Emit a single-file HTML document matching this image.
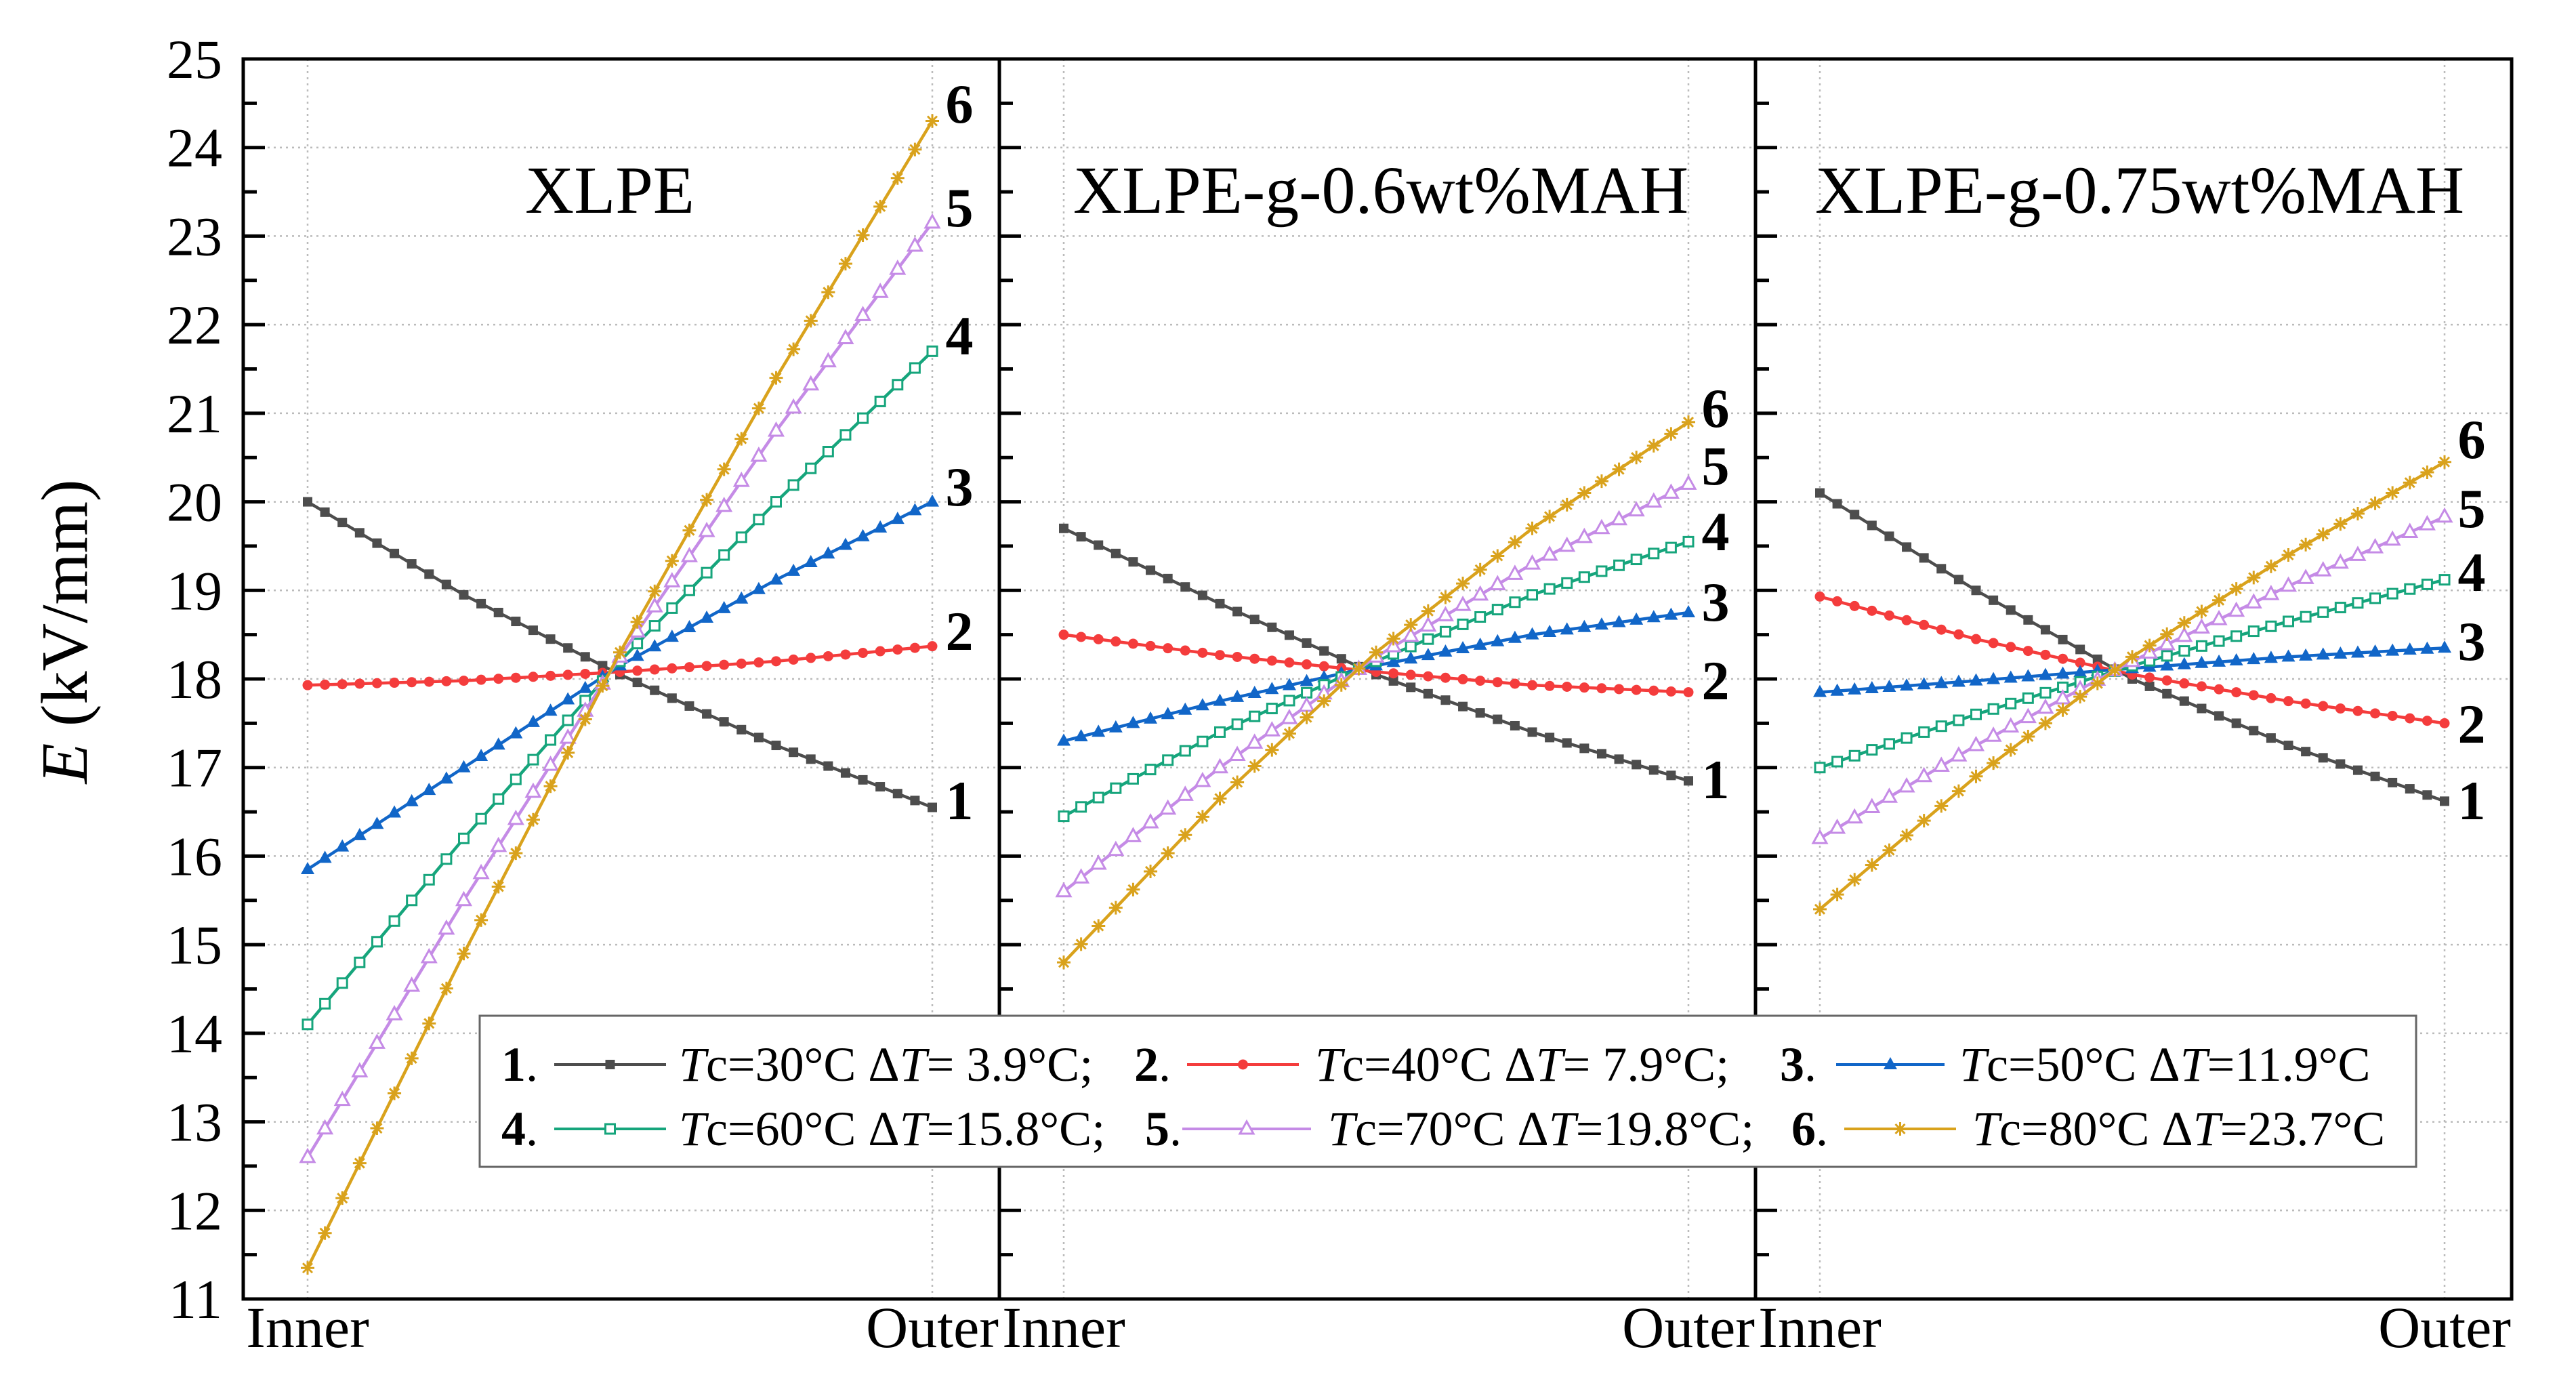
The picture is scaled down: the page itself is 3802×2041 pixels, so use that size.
<!DOCTYPE html>
<html><head><meta charset="utf-8"><style>
html,body{margin:0;padding:0;background:#fff}
svg{display:block;font-family:"Liberation Serif",serif}
</style></head><body>
<svg id="chart" width="3802" height="2041" viewBox="0 0 3802 2041" xmlns="http://www.w3.org/2000/svg">
<g id="grid"></g>
<g id="series"></g>
<g id="axes"></g>
<text transform="translate(128,932) rotate(-90)" text-anchor="middle" font-size="98"><tspan font-style="italic">E</tspan> (kV/mm)</text>
<g id="legend"></g>
</svg>
<script>
const yTicks=[11,12,13,14,15,16,17,18,19,20,21,22,23,24,25];
const panelTitles=["XLPE","XLPE-g-0.6wt%MAH","XLPE-g-0.75wt%MAH"];
const positions=[0,0.25,0.5,0.75,1];
const xlpe=[[20.0,18.95,18.05,17.25,16.55],[17.93,17.98,18.08,18.2,18.37],[15.85,17.0,18.15,19.12,20.0],[14.1,16.2,18.2,20.0,21.7],[12.6,15.5,18.25,20.8,23.15],[11.35,14.9,18.3,21.4,24.3]];
const mah06=[[19.7,18.85,18.05,17.4,16.85],[18.5,18.27,18.08,17.93,17.85],[17.3,17.75,18.15,18.5,18.75],[16.45,17.4,18.2,18.95,19.55],[15.6,17.0,18.25,19.3,20.2],[14.8,16.65,18.3,19.7,20.9]];
const mah075=[[20.1,19.0,18.0,17.25,16.62],[18.93,18.45,18.05,17.75,17.5],[17.85,17.98,18.12,18.25,18.35],[17.0,17.6,18.15,18.65,19.12],[16.2,17.25,18.2,19.05,19.83],[15.4,16.9,18.25,19.4,20.45]];
const panelData=[xlpe,mah06,mah075];
const legendText=["Tc=30°C ΔT= 3.9°C;","Tc=40°C ΔT= 7.9°C;","Tc=50°C ΔT=11.9°C","Tc=60°C ΔT=15.8°C;","Tc=70°C ΔT=19.8°C;","Tc=80°C ΔT=23.7°C"];
const colors=["#4d4d4d","#f43c3c","#1166c8","#16a57c","#c58be6","#d9a21c"];
const markers=["sq","dot","tri","osq","otri","star"];
const labelY=[[1181,931,718,495,306,153],[1150,1004,888,784,687,602],[1181,1068,946,844,750,648]];

const NS="http://www.w3.org/2000/svg";
const plotTop=87,plotBottom=1917,panelW=1116,left0=359;
function yScale(v){return plotBottom-(v-11)/(25-11)*(plotBottom-plotTop);}
function px(p,f){return left0+p*panelW+95+f*922;}
function mk(tag,attrs,parent){const e=document.createElementNS(NS,tag);for(const k in attrs)e.setAttribute(k,attrs[k]);parent.appendChild(e);return e;}
const grid=document.getElementById('grid'),ser=document.getElementById('series'),axes=document.getElementById('axes'),leg=document.getElementById('legend');

function drawMarker(type,x,yy,c,parent){
  let e;
  if(type==="sq"){e=mk('rect',{x:x-7,y:yy-7,width:14,height:14,fill:c},parent);}
  else if(type==="dot"){e=mk('circle',{cx:x,cy:yy,r:7.5,fill:c},parent);}
  else if(type==="tri"){e=mk('polygon',{points:`${x},${yy-11} ${x-10},${yy+7} ${x+10},${yy+7}`,fill:c},parent);}
  else if(type==="osq"){e=mk('rect',{x:x-7,y:yy-7,width:14,height:14,fill:'#fff',stroke:c,'stroke-width':3},parent);}
  else if(type==="otri"){e=mk('polygon',{points:`${x},${yy-11} ${x-10},${yy+7} ${x+10},${yy+7}`,fill:'#fff',stroke:c,'stroke-width':3},parent);}
  else {e=mk('path',{d:`M${x-10},${yy}L${x+10},${yy}M${x},${yy-10}L${x},${yy+10}M${x-7},${yy-7}L${x+7},${yy+7}M${x-7},${yy+7}L${x+7},${yy-7}`,stroke:c,'stroke-width':3},parent);}
  
  
}

for(let p=0;p<3;p++){
  const L=left0+p*panelW,R=L+panelW;
  yTicks.forEach(t=>{
    const g=mk('line',{x1:L,x2:R,y1:yScale(t),y2:yScale(t),stroke:'#bbb','stroke-width':2.5,'stroke-dasharray':'3 6'},grid);
    
    
  });
  [0,1].forEach(f=>{
    const g=mk('line',{x1:px(p,f),x2:px(p,f),y1:plotTop,y2:plotBottom,stroke:'#bbb','stroke-width':2.5,'stroke-dasharray':'3 6'},grid);
    
    
  });
  for(let v=11;v<=25;v+=0.5){
    const major=Number.isInteger(v);
    const t=mk('line',{x1:L,x2:L+(major?32:20),y1:yScale(v),y2:yScale(v),stroke:'#000','stroke-width':5},axes);
    
    
  }
  const tt=mk('text',{x:[900,2038,3158][p],y:314,'font-size':100,'text-anchor':'middle'},axes);
  tt.textContent=panelTitles[p];
  
  
  const xi=mk('text',{x:px(p,0),y:1988,'font-size':86,'text-anchor':'middle'},axes);
  xi.textContent="Inner";
  
  
  const xo=mk('text',{x:px(p,1),y:1988,'font-size':86,'text-anchor':'middle'},axes);
  xo.textContent="Outer";
  
  

  panelData[p].forEach((vals,s)=>{
    const pts=vals.map((v,i)=>[px(p,positions[i]),yScale(v)]);
    const pl=mk('polyline',{points:pts.map(q=>q.join(',')).join(' '),fill:'none',stroke:colors[s],'stroke-width':4.5},ser);
    
    
    const N=36;
    for(let k=0;k<=N;k++){
      const f=k/N;
      let i=0;while(i<positions.length-2&&f>positions[i+1])i++;
      const u=(f-positions[i])/(positions[i+1]-positions[i]);
      const v=vals[i]+(vals[i+1]-vals[i])*u;
      drawMarker(markers[s],px(p,f),yScale(v),colors[s],ser);
    }
    const lb=mk('text',{x:px(p,1)+40,y:labelY[p][s]+28,'font-size':82,'font-weight':'bold','text-anchor':'middle'},ser);
    lb.textContent=String(s+1);
    
    
  });
}
yTicks.forEach(t=>{
  const e=mk('text',{x:328,y:yScale(t)+28,'font-size':82,'text-anchor':'end'},axes);
  e.textContent=String(t);
  
  
});
const fr=mk('rect',{x:left0,y:plotTop,width:3*panelW,height:plotBottom-plotTop,fill:'none',stroke:'#000','stroke-width':5},axes);


[1,2].forEach(p=>{
  const d=mk('line',{x1:left0+p*panelW,x2:left0+p*panelW,y1:plotTop,y2:plotBottom,stroke:'#000','stroke-width':5},axes);
  
  
});

const lbx=mk('rect',{x:708,y:1499,width:2858,height:223,fill:'#fff',stroke:'#666','stroke-width':3},leg);


const numX=[740,1674,2627,740,1690,2644];
const lineX=[[818,983],[1752,1917],[2710,2870],[818,983],[1745,1935],[2722,2887]];
const textX=[1002,1941,2892,1002,1960,2911];
for(let s=0;s<6;s++){
  const yy=s<3?1595:1690;
  const g=mk('g',{},leg);
  
  
  const n=mk('text',{x:numX[s],y:yy,'font-size':72},g);
  n.innerHTML='<tspan font-weight="bold">'+(s+1)+'</tspan>.';
  mk('line',{x1:lineX[s][0],x2:lineX[s][1],y1:yy-24,y2:yy-24,stroke:colors[s],'stroke-width':4},g);
  drawMarker(markers[s],(lineX[s][0]+lineX[s][1])/2,yy-24,colors[s],g);
  const t=mk('text',{x:textX[s],y:yy,'font-size':72},g);
  const parts=legendText[s].match(/^Tc(=\d+°C )ΔT(.*)$/);
  t.innerHTML='<tspan font-style="italic">T</tspan>c'+parts[1]+'Δ<tspan font-style="italic">T</tspan>'+parts[2];
}
</script>
</body></html>
